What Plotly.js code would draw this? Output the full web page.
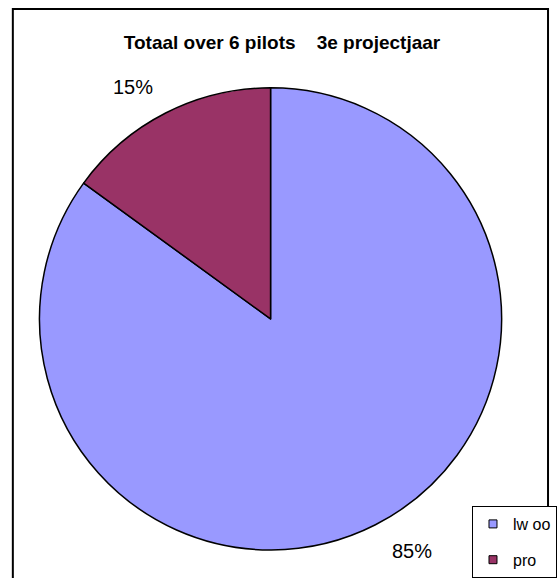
<!DOCTYPE html>
<html>
<head>
<meta charset="utf-8">
<script src="https://cdn.plot.ly/plotly-3.0.1.min.js"></script>
<style>
  html, body { margin: 0; padding: 0; background: #ffffff; }
  #chart { width: 557px; height: 578px; }
</style>
</head>
<body>
<div id="chart"></div>
<script>
const categories = ["lw oo", "pro"];
const values = [85, 15];
const sliceColors = ["#9999FF", "#993366"];
const chartTitle = "Totaal over 6 pilots&nbsp;&nbsp;&nbsp; 3e projectjaar";

const W = 557, H = 578;
const FONT = "Liberation Sans, Arial, sans-serif";

// main pie (slices)
const pieTrace = {
  type: "pie",
  labels: categories,
  values: values,
  sort: false,
  direction: "clockwise",
  rotation: 0,
  showlegend: false,
  marker: { colors: sliceColors, line: { color: "#000000", width: 1.5 } },
  textinfo: "none",
  hoverinfo: "none",
  domain: { x: [40 / W, 508 / W], y: [24 / H, 492 / H] }
};

// same data, transparent, slightly larger: carries the percentage labels outside
const labelTrace = {
  type: "pie",
  labels: categories,
  values: values,
  sort: false,
  direction: "clockwise",
  rotation: 0,
  showlegend: false,
  marker: { colors: ["rgba(0,0,0,0)", "rgba(0,0,0,0)"], line: { width: 0 } },
  textinfo: "percent",
  textposition: "outside",
  outsidetextfont: { family: FONT, size: 20, color: "#000000" },
  hoverinfo: "none",
  domain: { x: [22 / W, 530 / W], y: [4 / H, 512 / H] }
};

// legend entries (one per category, separate groups for spacing)
const legendTraces = categories.map((name, i) => ({
  type: "scatter",
  mode: "markers",
  x: [null], y: [null],
  name: name,
  legendgroup: "g" + i,
  showlegend: true,
  hoverinfo: "none",
  marker: { symbol: "square", size: 8, color: sliceColors[i], line: { color: "#000000", width: 1 } }
}));

const layout = {
  width: W,
  height: H,
  margin: { l: 0, r: 0, t: 0, b: 0 },
  paper_bgcolor: "#ffffff",
  plot_bgcolor: "rgba(0,0,0,0)",
  font: { family: FONT, color: "#000000" },
  xaxis: { visible: false },
  yaxis: { visible: false },
  title: {
    text: "<b>" + chartTitle + "</b>",
    font: { family: FONT, size: 19, color: "#000000" },
    x: 282 / W, xanchor: "center",
    y: 1 - 42 / H, yanchor: "middle"
  },
  showlegend: true,
  legend: {
    x: 478 / W, xanchor: "left",
    y: 1 - 508 / H, yanchor: "top",
    bordercolor: "#000000",
    borderwidth: 1,
    bgcolor: "#ffffff",
    traceorder: "grouped",
    tracegroupgap: 12,
    itemwidth: 30,
    font: { family: FONT, size: 16, color: "#000000" }
  },
  shapes: [{
    type: "rect", xref: "paper", yref: "paper",
    x0: 13 / W, x1: 555 / W, y0: -0.05, y1: 1 - 9 / H,
    line: { color: "#000000", width: 2 }, fillcolor: "rgba(0,0,0,0)"
  }]
};

Plotly.newPlot("chart", [pieTrace, labelTrace].concat(legendTraces), layout, { displayModeBar: false, staticPlot: true });
</script>
</body>
</html>
